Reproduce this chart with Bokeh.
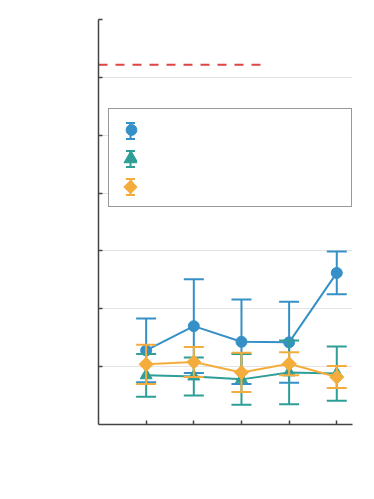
from bokeh.plotting import figure
from bokeh.models import (ColumnDataSource, Whisker, TeeHead, Legend, LegendItem, BoxAnnotation,
                          FixedTicker, Range1d, CustomJSTickFormatter)
from bokeh.embed import file_html
from bokeh.resources import INLINE

# ---- data ----
sessions = [1, 2, 3, 4, 5]
x_ticks = [1, 2, 3, 4, 5]
y_ticks = [1, 2, 3, 4, 5, 6, 7]

blue_mean = [1.28, 1.70, 1.43, 1.42, 2.62]
blue_err = [0.55, 0.81, 0.73, 0.70, 0.37]

teal_mean = [0.85, 0.83, 0.78, 0.90, 0.88]
teal_err = [0.37, 0.33, 0.44, 0.55, 0.47]

orange_mean = [1.04, 1.08, 0.90, 1.05, 0.82]
orange_err = [0.34, 0.26, 0.34, 0.20, 0.19]

threshold_x = [0.0, 3.5]
threshold_y = [6.22, 6.22]

BLUE = "#3690c8"
TEAL = "#2e9e96"
ORANGE = "#f4ad3c"
RED = "#dd4444"

X_END, Y_END = 5.33, 7.0
FRAME_W, FRAME_H = 254, 405

p = figure(width=366, height=491, x_range=Range1d(0, X_END), y_range=Range1d(0, Y_END),
           output_backend="svg", toolbar_location=None,
           min_border_left=98, min_border_right=14, min_border_top=19, min_border_bottom=67)
p.outline_line_color = None
p.background_fill_color = "white"
p.xgrid.visible = False
p.ygrid.grid_line_color = "#e3e3e3"
p.ygrid.grid_line_width = 1

blank = CustomJSTickFormatter(code="return ''")
for ax, ticks in ((p.xaxis, x_ticks), (p.yaxis, y_ticks)):
    ax.ticker = FixedTicker(ticks=ticks)
    ax.formatter = blank
    ax.axis_line_color = "#444444"
    ax.axis_line_width = 1.5
    ax.major_tick_line_color = "#444444"
    ax.major_tick_line_width = 1.5
    ax.major_tick_in = 4
    ax.major_tick_out = 0
    ax.minor_tick_line_color = None

# legend geometry (pixels inside the frame, y measured up from the frame bottom)
px_x = X_END / FRAME_W
px_y = Y_END / FRAME_H
LEG_LEFT, LEG_BOTTOM, LEG_W, LEG_H = 10, 217, 243, 97
leg_x_px = LEG_LEFT + 7 + 15
leg_centers_px = [LEG_BOTTOM + LEG_H - 7 - 13.5 - k * 28 for k in range(3)]

# white legend background beneath everything else drawn in the box
p.add_layout(BoxAnnotation(left=LEG_LEFT * px_x, right=(LEG_LEFT + LEG_W) * px_x,
                           bottom=LEG_BOTTOM * px_y, top=(LEG_BOTTOM + LEG_H) * px_y,
                           fill_color="white", fill_alpha=1.0, line_color=None,
                           level="underlay"))

series = [
    (blue_mean, blue_err, BLUE, "circle", 11, None),
    (teal_mean, teal_err, TEAL, "triangle", 12, ("triangle", 13, 0.0)),
    (orange_mean, orange_err, ORANGE, "diamond", 14, ("square", 9.5, 0.785398)),
]

legend_items = []
for (mean, err, col, marker, size, leg_sym), cy in zip(series, leg_centers_px):
    src = ColumnDataSource(dict(
        x=sessions, y=mean,
        lower=[m - e for m, e in zip(mean, err)],
        upper=[m + e for m, e in zip(mean, err)],
    ))
    w = Whisker(base="x", lower="lower", upper="upper", source=src, dimension="height",
                line_color=col, line_width=2, level="glyph",
                upper_head=TeeHead(size=20, line_color=col, line_width=2),
                lower_head=TeeHead(size=20, line_color=col, line_width=2))
    p.renderers.append(w)
    p.line("x", "y", source=src, line_color=col, line_width=2)
    r = p.scatter("x", "y", source=src, marker=marker, size=size,
                  fill_color=col, line_color=col)
    if marker == "diamond":
        p.scatter("x", "y", source=src, marker="square", size=10, angle=0.785398,
                  fill_color=col, line_color=col)
    legend_items.append(LegendItem(label="", renderers=[r]))

    # error-bar symbol in the legend box
    lx, ly = leg_x_px * px_x, cy * px_y
    lsrc = ColumnDataSource(dict(base=[lx], lower=[(cy - 8) * px_y], upper=[(cy + 8) * px_y]))
    lw = Whisker(base="base", lower="lower", upper="upper", source=lsrc, dimension="height",
                 line_color=col, line_width=2, level="glyph",
                 upper_head=TeeHead(size=9, line_color=col, line_width=2),
                 lower_head=TeeHead(size=9, line_color=col, line_width=2))
    p.renderers.append(lw)
    if leg_sym is not None:
        m2, s2, a2 = leg_sym
        p.scatter([lx], [ly], marker=m2, size=s2, angle=a2, fill_color=col, line_color=col)

p.line(threshold_x, threshold_y, line_color=RED, line_width=2, line_dash="9 8")

legend = Legend(items=legend_items, location=(LEG_LEFT, LEG_BOTTOM), padding=7, spacing=1,
                glyph_width=30, glyph_height=27, label_width=193, label_standoff=5,
                border_line_color="#333333", border_line_width=1.5,
                background_fill_alpha=0.0)
p.add_layout(legend)

open("out.html", "w").write(file_html(p, INLINE))
